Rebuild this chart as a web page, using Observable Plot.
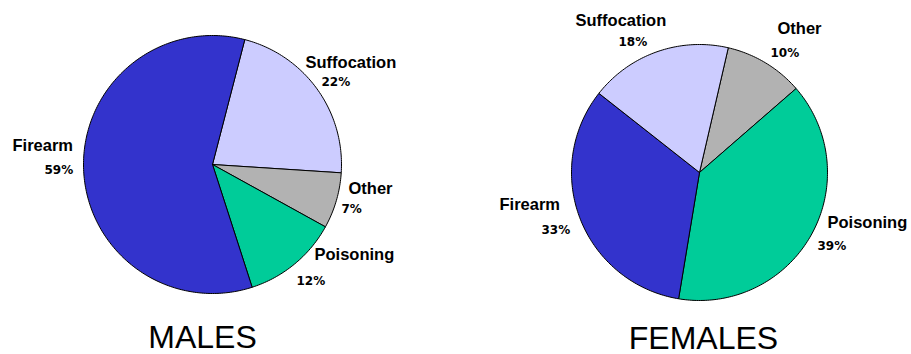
<!DOCTYPE html>
<html>
<head>
<meta charset="utf-8">
<script src="https://cdn.jsdelivr.net/npm/d3@7"></script>
<script src="https://cdn.jsdelivr.net/npm/@observablehq/plot@0.6"></script>
<style>
  html, body { margin: 0; padding: 0; background: #fff; }
  svg { display: block; }
</style>
</head>
<body>
<div id="chart"></div>
<script>
// ---- data ----
const maleCategories   = ["Suffocation", "Other", "Poisoning", "Firearm"];
const maleValues       = [22, 7, 12, 59];
const femaleCategories = ["Other", "Poisoning", "Firearm", "Suffocation"];
const femaleValues     = [10, 39, 33, 18];
const pieTitles        = ["MALES", "FEMALES"];
const categoryColors   = {Firearm: "#3333CC", Suffocation: "#CCCCFF", Other: "#B2B2B2", Poisoning: "#00CC99"};

// ---- layout (pixels) ----
const W = 911, H = 354;
const pies = [
  {title: pieTitles[0], cats: maleCategories, vals: maleValues, cx: 212, cy: 164, r: 129, start: 14.5,
   titleX: 202, titleY: 347,
   labels: {Firearm: [12, 150, 44, 173], Suffocation: [305, 67, 321, 85], Other: [348, 193, 341, 212], Poisoning: [314, 259, 296, 284]}},
  {title: pieTitles[1], cats: femaleCategories, vals: femaleValues, cx: 699, cy: 172, r: 128, start: 13,
   titleX: 703, titleY: 348,
   labels: {Firearm: [499, 209, 541, 233], Suffocation: [575, 25, 618, 45], Other: [777, 33, 770, 56], Poisoning: [827, 227, 817, 249]}}
];

// build slice outlines and labels
const slicePts = [];
const nameRows = [];
const pctRows = [];
const titleRows = [];
pies.forEach((p, pi) => {
  const arcs = d3.pie().sort(null)
    .startAngle(p.start * Math.PI / 180)
    .endAngle((p.start + 360) * Math.PI / 180)(p.vals);
  arcs.forEach((a, i) => {
    const cat = p.cats[i];
    const key = pi + "-" + cat;
    slicePts.push({key, cat, x: p.cx, y: p.cy});
    const n = Math.max(2, Math.ceil((a.endAngle - a.startAngle) / (Math.PI / 180)));
    for (let k = 0; k <= n; k++) {
      const t = a.startAngle + (a.endAngle - a.startAngle) * k / n;
      slicePts.push({key, cat, x: p.cx + p.r * Math.sin(t), y: p.cy - p.r * Math.cos(t)});
    }
    slicePts.push({key, cat, x: p.cx, y: p.cy});
    const L = p.labels[cat];
    nameRows.push({x: L[0], y: L[1], text: cat});
    pctRows.push({x: L[2], y: L[3], text: p.vals[i] + "%"});
  });
  titleRows.push({x: p.titleX, y: p.titleY, text: p.title});
});

const plot = Plot.plot({
  width: W,
  height: H,
  margin: 0,
  x: {domain: [0, W], range: [0, W], axis: null},
  y: {domain: [0, H], range: [0, H], axis: null},
  color: {type: "identity"},
  marks: [
    Plot.line(slicePts, {x: "x", y: "y", z: "key", fill: d => categoryColors[d.cat], stroke: "#000", strokeWidth: 1, strokeLinejoin: "round", curve: "linear"}),
    Plot.text(nameRows, {x: "x", y: "y", text: "text", textAnchor: "start", lineAnchor: "bottom",
      fontFamily: "Liberation Sans, Arial, sans-serif", fontWeight: "bold", fontSize: 16.5, fill: "#000"}),
    Plot.text(pctRows, {x: "x", y: "y", text: "text", textAnchor: "start", lineAnchor: "bottom", ariaLabel: "pct",
      fontFamily: "DejaVu Sans, Verdana, sans-serif", fontWeight: "bold", fontSize: 12, fill: "#000"}),
    Plot.text(titleRows, {x: "x", y: "y", text: "text", textAnchor: "middle", lineAnchor: "bottom",
      fontFamily: "Liberation Sans, Arial, sans-serif", fontWeight: "normal", fontSize: 32, fill: "#000"})
  ]
});
plot.querySelectorAll('g[aria-label="pct"] text').forEach(t => t.setAttribute("letter-spacing", "1"));
document.getElementById("chart").appendChild(plot);
</script>
</body>
</html>
